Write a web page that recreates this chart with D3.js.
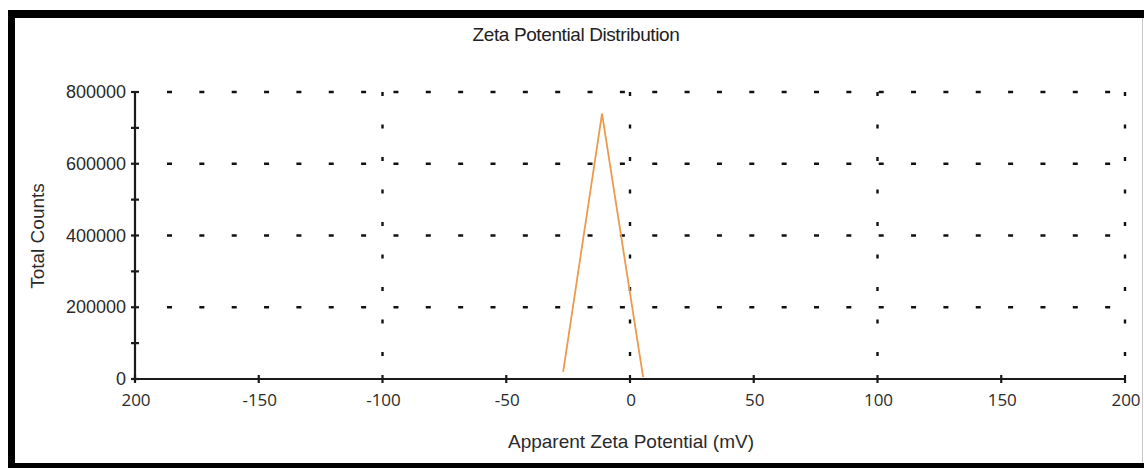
<!DOCTYPE html>
<meta charset="utf-8">
<script src="https://d3js.org/d3.v7.min.js"></script>
<style>
  body { margin: 0; background: #fff; }
  svg { display: block; }
</style>
<body>
<svg width="1144" height="468"></svg>
<script>
  // data
  var zeta   = [-27, -11.3, 5.3];
  var counts = [20000, 740000, 5000];

  var xTicks      = [-200, -150, -100, -50, 0, 50, 100, 150, 200];
  var xTickLabels = ['200', '-150', '-100', '-50', '0', '50', '100', '150', '200'];
  var xGridVals   = [-100, 0, 100, 200];
  var yTicks      = [0, 200000, 400000, 600000, 800000];
  var yMinor      = [100000, 300000, 500000, 700000];
  var yGridVals   = [200000, 400000, 600000, 800000];

  var svg = d3.select('svg');

  var x = d3.scaleLinear().domain([-200, 200]).range([135, 1125]);
  var y = d3.scaleLinear().domain([0, 800000]).range([379, 92]);

  /* ----------- frame ----------- */
  svg.append('rect').attr('x', 8).attr('y', 10).attr('width', 1136).attr('height', 8).attr('fill', '#000');
  svg.append('rect').attr('x', 8).attr('y', 10).attr('width', 7).attr('height', 458).attr('fill', '#000');
  svg.append('rect').attr('x', 8).attr('y', 463).attr('width', 1136).attr('height', 5).attr('fill', '#000');
  svg.append('rect').attr('x', 1142).attr('y', 18).attr('width', 1).attr('height', 445).attr('fill', '#c8c8c8');

  /* ----------- grid ----------- */
  svg.selectAll('line.hgrid').data(yGridVals).enter()
    .append('line')
    .attr('class', 'hgrid')
    .attr('x1', 167).attr('x2', x(200) - 4)
    .attr('y1', function(d){ return y(d); })
    .attr('y2', function(d){ return y(d); })
    .attr('stroke', '#111')
    .attr('stroke-width', 2.4)
    .attr('stroke-dasharray', '5 27.35');

  svg.selectAll('line.vgrid').data(xGridVals).enter()
    .append('line')
    .attr('class', 'vgrid')
    .attr('x1', function(d){ return x(d); })
    .attr('x2', function(d){ return x(d); })
    .attr('y1', y(800000)).attr('y2', y(0) - 20)
    .attr('stroke', '#111')
    .attr('stroke-width', 2.4)
    .attr('stroke-dasharray', '4 28.5');

  /* ----------- axes ----------- */
  var ax = svg.append('g').attr('stroke', '#1a1a1a').attr('stroke-width', 2.2);
  ax.append('line').attr('x1', x(-200)).attr('x2', x(200)).attr('y1', y(0)).attr('y2', y(0));
  ax.append('line').attr('x1', x(-200)).attr('x2', x(-200)).attr('y1', y(0)).attr('y2', y(800000));

  ax.selectAll('line.xt').data(xTicks).enter()
    .append('line').attr('class', 'xt')
    .attr('x1', function(d){ return x(d); }).attr('x2', function(d){ return x(d); })
    .attr('y1', y(0) - 4).attr('y2', y(0) + 4);

  ax.selectAll('line.yt').data(yTicks.concat(yMinor)).enter()
    .append('line').attr('class', 'yt')
    .attr('x1', x(-200) - 4).attr('x2', x(-200) + 4)
    .attr('y1', function(d){ return y(d); }).attr('y2', function(d){ return y(d); });

  svg.selectAll('text.xl').data(xTicks).enter()
    .append('text').attr('class', 'xl')
    .attr('x', function(d){ return x(d) + 1; })
    .attr('y', 406)
    .attr('text-anchor', 'middle')
    .attr('font-family', '"Open Sans", sans-serif')
    .attr('font-size', 17)
    .attr('fill', '#2a2a2a')
    .text(function(d, i){ return xTickLabels[i]; });

  svg.selectAll('text.yl').data(yTicks).enter()
    .append('text').attr('class', 'yl')
    .attr('x', 126)
    .attr('y', function(d){ return y(d) + 6; })
    .attr('text-anchor', 'end')
    .attr('font-family', '"Liberation Sans", Arial, sans-serif')
    .attr('font-size', 18)
    .attr('fill', '#2a2a2a')
    .text(function(d){ return d; });

  /* ----------- series ----------- */
  var line = d3.line()
    .x(function(d, i){ return x(zeta[i]); })
    .y(function(d, i){ return y(counts[i]); });

  svg.append('path')
    .datum(counts)
    .attr('d', line)
    .attr('fill', 'none')
    .attr('stroke', '#ec9a4c')
    .attr('stroke-width', 1.8);

  /* ----------- labels ----------- */
  svg.append('text')
    .attr('x', 576).attr('y', 41)
    .attr('text-anchor', 'middle')
    .attr('font-family', '"Liberation Sans", Arial, sans-serif')
    .attr('font-size', 19)
    .attr('letter-spacing', -0.4)
    .attr('fill', '#222')
    .text('Zeta Potential Distribution');

  svg.append('text')
    .attr('x', 631).attr('y', 448)
    .attr('text-anchor', 'middle')
    .attr('font-family', '"Liberation Sans", Arial, sans-serif')
    .attr('font-size', 19)
    .attr('fill', '#2a2a2a')
    .text('Apparent Zeta Potential (mV)');

  svg.append('text')
    .attr('transform', 'translate(44,236) rotate(-90)')
    .attr('text-anchor', 'middle')
    .attr('font-family', '"Liberation Sans", Arial, sans-serif')
    .attr('font-size', 19)
    .attr('fill', '#2a2a2a')
    .text('Total Counts');
</script>
</body>
